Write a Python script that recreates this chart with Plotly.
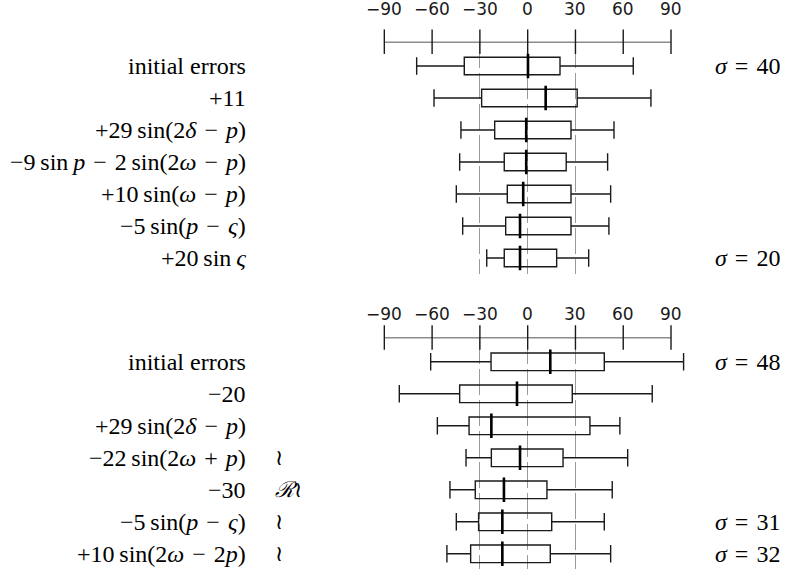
import plotly.graph_objects as go

# ---------------- data ----------------
tick_vals = [-90, -60, -30, 0, 30, 60, 90]
tick_text = ["\u221290", "\u221260", "\u221230", "0", "30", "60", "90"]
ref_lines = [-30, 0, 30]

S = "\u2004"   # math-like spacing around binary operators
top_labels = [
    "initial errors",
    "+11",
    f"+29\u2009sin(2<i>\u03b4</i>{S}\u2212{S}<i>p</i>)",
    f"\u22129\u2009sin\u2009<i>p</i>{S}\u2212{S}2\u2009sin(2<i>\u03c9</i>{S}\u2212{S}<i>p</i>)",
    f"+10\u2009sin(<i>\u03c9</i>{S}\u2212{S}<i>p</i>)",
    f"\u22125\u2009sin(<i>p</i>{S}\u2212{S}<i>\u03c2</i>)",
    "+20\u2009sin\u2009<i>\u03c2</i>",
]
top_lower = [-69.7, -58.8, -41.9, -42.7, -44.8, -40.8, -25.7]
top_q1 = [-39.8, -28.9, -20.7, -14.7, -12.8, -13.8, -14.7]
top_median = [0.2, 11.3, -0.9, -0.9, -2.8, -4.8, -4.8]
top_q3 = [20.3, 31.1, 27.2, 24.2, 27.2, 27.2, 18.2]
top_upper = [66.3, 77.4, 54.2, 50.2, 52.1, 51.0, 38.3]
top_sigma = ["40", "", "", "", "", "", "20"]
top_marks = ["", "", "", "", "", "", ""]

bot_labels = [
    "initial errors",
    "\u221220",
    f"+29\u2009sin(2<i>\u03b4</i>{S}\u2212{S}<i>p</i>)",
    f"\u221222\u2009sin(2<i>\u03c9</i>{S}+{S}<i>p</i>)",
    "\u221230",
    f"\u22125\u2009sin(<i>p</i>{S}\u2212{S}<i>\u03c2</i>)",
    f"+10\u2009sin(2<i>\u03c9</i>{S}\u2212{S}2<i>p</i>)",
]
bot_lower = [-60.9, -80.6, -56.7, -38.7, -48.8, -44.8, -50.7]
bot_q1 = [-23.0, -42.7, -36.8, -22.8, -32.9, -30.8, -35.8]
bot_median = [14.2, -6.7, -22.8, -4.8, -14.9, -15.9, -15.9]
bot_q3 = [48.1, 28.0, 39.1, 22.2, 12.1, 15.1, 14.2]
bot_upper = [97.9, 78.2, 57.9, 62.8, 53.1, 48.1, 52.1]
bot_sigma = ["48", "", "", "", "", "31", "32"]
bot_marks = ["", "", "", "\u2240", "<i>\u211b</i>\u2240", "\u2240", "\u2240"]

# ---------------- style / layout ----------------
W, H = 787, 569
ROW_PX = 32.0
AX_Y = 0.24
INK = "#1a1a1a"
GRID = "#9a9a9a"
SERIF = "Liberation Serif, DejaVu Serif, serif"
SANS = "DejaVu Sans, sans-serif"

X_RANGE = [-100, 105]
X_DOMAIN = [368.4 / W, 694.9 / W]

panels = [
    dict(labels=top_labels, lower=top_lower, q1=top_q1, median=top_median, q3=top_q3,
         upper=top_upper, sigma=top_sigma, marks=top_marks,
         y_top_px=41.7, y_bot_px=274.0, label_gap=32.7, xa="x", ya="y"),
    dict(labels=bot_labels, lower=bot_lower, q1=bot_q1, median=bot_median, q3=bot_q3,
         upper=bot_upper, sigma=bot_sigma, marks=bot_marks,
         y_top_px=337.5, y_bot_px=569.0, label_gap=23.5, xa="x2", ya="y2"),
]

fig = go.Figure()
annotations = []

for k, p in enumerate(panels):
    n = len(p["labels"])
    rows = list(range(1, n + 1))
    y_bottom = AX_Y + (p["y_bot_px"] - p["y_top_px"]) / ROW_PX

    fig.add_trace(go.Box(
        orientation="h", y=rows,
        lowerfence=p["lower"], q1=p["q1"], median=p["median"], q3=p["q3"],
        upperfence=p["upper"],
        width=0.55, whiskerwidth=1,
        line=dict(color=INK, width=1.4),
        fillcolor="rgba(0,0,0,0)",
        boxpoints=False, hoverinfo="skip",
        xaxis=p["xa"], yaxis=p["ya"], showlegend=False,
    ))
    # thick median lines
    fig.add_trace(go.Scatter(
        x=p["median"], y=rows, mode="markers",
        marker=dict(symbol="line-ns", size=17.5, line=dict(color="black", width=2.6)),
        xaxis=p["xa"], yaxis=p["ya"], showlegend=False, hoverinfo="skip",
    ))
    # top axis line with crossing ticks
    fig.add_trace(go.Scatter(
        x=tick_vals, y=[AX_Y] * len(tick_vals), mode="lines+markers",
        line=dict(color=INK, width=1.4),
        marker=dict(symbol="line-ns", size=17.5, line=dict(color=INK, width=1.4)),
        cliponaxis=False,
        xaxis=p["xa"], yaxis=p["ya"], showlegend=False, hoverinfo="skip",
    ))

    yref = p["ya"]
    for v, t in zip(tick_vals, tick_text):
        annotations.append(dict(
            xref=p["xa"], yref=yref, x=v, y=AX_Y, yshift=p["label_gap"],
            xanchor="center", yanchor="middle", text=t, showarrow=False,
            font=dict(family=SANS, size=17, color=INK),
        ))
    for i, r in enumerate(rows):
        annotations.append(dict(
            xref="paper", yref=yref, x=248 / W, y=r, xanchor="right", yanchor="middle",
            text=p["labels"][i], showarrow=False,
            font=dict(family=SERIF, size=24, color="black"),
        ))
        if p["marks"][i]:
            annotations.append(dict(
                xref="paper", yref=yref, x=273 / W, y=r, xanchor="left", yanchor="middle",
                text=p["marks"][i], showarrow=False,
                font=dict(family=SERIF, size=22, color="black"),
            ))
        if p["sigma"][i]:
            annotations.append(dict(
                xref="paper", yref=yref, x=713 / W, y=r, xanchor="left", yanchor="middle",
                text="<i>\u03c3</i>\u2004=\u2004" + p["sigma"][i], showarrow=False,
                font=dict(family=SERIF, size=24, color="black"),
            ))

    xkey = "xaxis" if k == 0 else "xaxis2"
    ykey = "yaxis" if k == 0 else "yaxis2"
    dom = [(H - p["y_bot_px"]) / H, (H - p["y_top_px"]) / H]
    fig.update_layout({
        xkey: dict(range=X_RANGE, domain=X_DOMAIN, tickvals=ref_lines,
                   showticklabels=False, ticks="", showgrid=True,
                   gridcolor=GRID, gridwidth=1.4, griddash="26px,5px",
                   zeroline=False, showline=False, fixedrange=True,
                   anchor=p["ya"]),
        ykey: dict(range=[y_bottom, AX_Y], domain=dom, showgrid=False,
                   showticklabels=False, ticks="", zeroline=False,
                   showline=False, fixedrange=True, anchor=p["xa"]),
    })

fig.update_layout(
    width=W, height=H, autosize=False,
    margin=dict(l=0, r=0, t=0, b=0, pad=0),
    paper_bgcolor="white", plot_bgcolor="white",
    annotations=annotations,
    showlegend=False,
)

fig.write_html(
    "out.html",
    config={"displayModeBar": False},
    post_script="document.body.style.margin='0';document.body.style.overflow='hidden';",
)
